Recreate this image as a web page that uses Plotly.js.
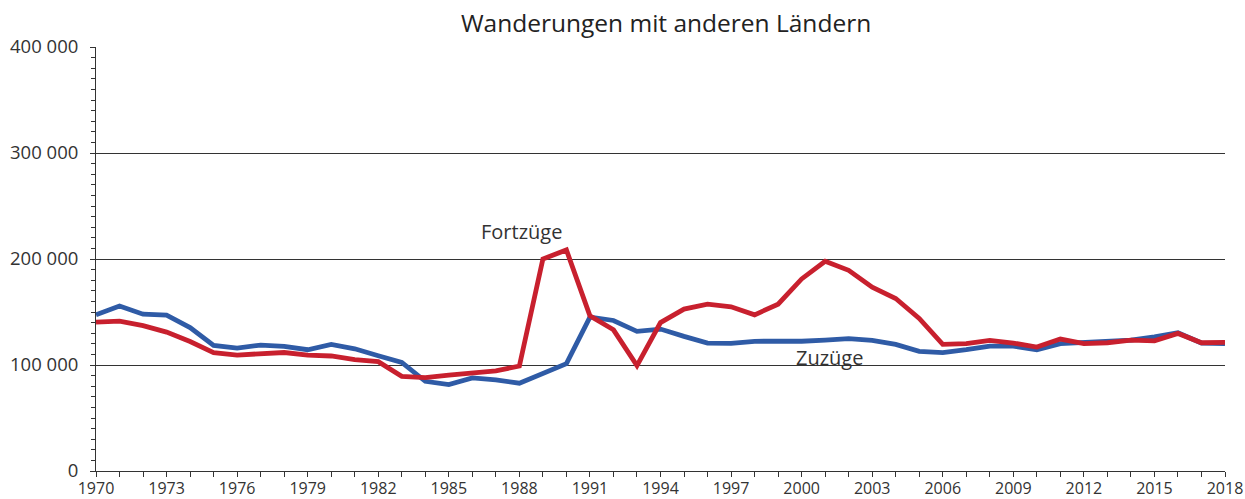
<!DOCTYPE html>
<html>
<head>
<meta charset="utf-8">
<script src="https://cdn.plot.ly/plotly-3.0.1.min.js"></script>
<style>html,body{margin:0;padding:0;background:#fff;}#chart{width:1245px;height:499px;}</style>
</head>
<body>
<div id="chart"></div>
<script>
const years = [1970,1971,1972,1973,1974,1975,1976,1977,1978,1979,1980,1981,1982,1983,1984,1985,1986,1987,1988,1989,1990,1991,1992,1993,1994,1995,1996,1997,1998,1999,2000,2001,2002,2003,2004,2005,2006,2007,2008,2009,2010,2011,2012,2013,2014,2015,2016,2017,2018];
const zuzuege = [147300,155700,147900,147000,135300,118400,116000,118800,117500,114400,119400,115300,108700,102400,84600,81500,87800,85900,82800,92500,101300,145100,142000,131700,133900,127000,120700,120400,122300,122600,122400,123500,124800,123200,119400,112900,111600,114400,117900,117900,114400,120100,121000,122300,123500,126600,130400,120700,120100];
const fortzuege = [140400,141300,137200,131000,122200,111600,109400,110600,111800,109400,108500,105000,103100,89300,88100,90500,92500,94400,99000,200000,208500,146400,133200,99400,140000,152700,157400,154900,147300,157400,181200,197800,189300,173400,162700,143900,119400,120100,123200,120700,116900,124500,120100,121000,123500,122800,129800,121000,121300];
const title = "Wanderungen mit anderen Ländern";
const labelFort = "Fortzüge";
const labelZu = "Zuzüge";

const font = "'Open Sans', 'Noto Sans', sans-serif";
const traces = [
  {x: years, y: zuzuege, name: labelZu, type: 'scatter', mode: 'lines',
   line: {color: '#2f5ba6', width: 4.8}},
  {x: years, y: fortzuege, name: labelFort, type: 'scatter', mode: 'lines',
   line: {color: '#c8202e', width: 4.8}}
];
const layout = {
  width: 1245, height: 499,
  margin: {l: 95.5, r: 20, t: 46.5, b: 27.5},
  paper_bgcolor: '#fff', plot_bgcolor: '#fff',
  showlegend: false,
  font: {family: font, color: '#333', size: 16},
  title: {text: title, x: 0.535, xanchor: 'center', y: 0.953, yanchor: 'middle',
          font: {family: font, size: 24.5, color: '#222'}},
  xaxis: {range: [1970, 2018], tick0: 1970, dtick: 3, showgrid: false, zeroline: false,
          showline: true, linecolor: '#333', linewidth: 1,
          ticks: 'outside', ticklen: 5, tickcolor: '#333', tickwidth: 1,
          tickfont: {size: 16, color: '#333'}, ticklabelstandoff: -2,
          minor: {dtick: 1, ticks: 'outside', ticklen: 5, tickcolor: '#333', showgrid: false}},
  yaxis: {range: [0, 400000], tick0: 0, dtick: 100000, showgrid: true, gridcolor: '#333', gridwidth: 1,
          zeroline: false, showline: true, linecolor: '#333', linewidth: 1,
          ticks: 'outside', ticklen: 5, tickcolor: '#333',
          separatethousands: true, tickformat: ',d',
          tickfont: {size: 18.5, color: '#333'}, ticklabelstandoff: 8,
          minor: {dtick: 10000, ticks: 'outside', ticklen: 4, tickcolor: '#333', showgrid: false}},
  separators: ', ',
  annotations: [
    {x: 1988.08, y: 226200, xref: 'x', yref: 'y', text: labelFort, showarrow: false,
     font: {family: font, size: 20, color: '#333'}},
    {x: 2001.17, y: 107300, xref: 'x', yref: 'y', text: labelZu, showarrow: false,
     font: {family: font, size: 20, color: '#333'}}
  ]
};
Plotly.newPlot('chart', traces, layout, {displayModeBar: false, staticPlot: true});
</script>
</body>
</html>
